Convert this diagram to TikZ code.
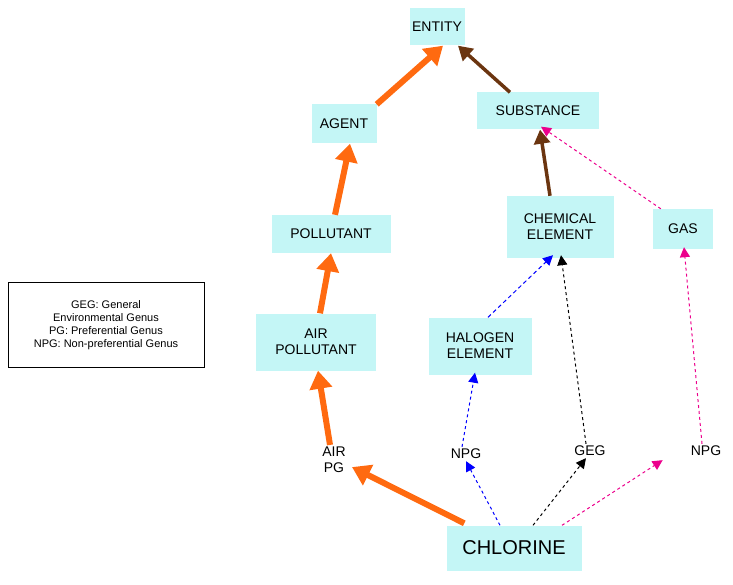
\documentclass[tikz,border=0pt]{standalone}
\usepackage{fontspec}
\setmainfont{Liberation Sans}
\usetikzlibrary{arrows.meta}
\definecolor{boxc}{HTML}{C4F6F6}
\definecolor{org}{HTML}{FF6A10}
\definecolor{brn}{HTML}{6B3510}
\begin{document}
\begin{tikzpicture}[x=1pt,y=-1pt,
  box/.style={fill=boxc,draw=none,align=center,font=\fontsize{14}{16}\selectfont,inner sep=0pt},
  lab/.style={align=center,font=\fontsize{14}{16}\selectfont,inner sep=2pt},
  thk/.style={draw=org,line width=6pt,-{Triangle[length=18pt,width=22pt]}},
  brw/.style={draw=brn,line width=3.5pt,-{Triangle[length=14pt,width=16pt]}},
  dsh/.style={dashed,line width=1pt,-{Triangle[length=10pt,width=10pt]}}]
\useasboundingbox (0,0) rectangle (733,585);
\node[box,minimum width=55,minimum height=37] (ent) at (437,27) {ENTITY};
\node[box,minimum width=65,minimum height=39] (agt) at (344,124) {AGENT};
\node[box,minimum width=122,minimum height=37] (sub) at (538,111) {SUBSTANCE};
\node[box,minimum width=119,minimum height=38] (pol) at (331,234) {POLLUTANT};
\node[box,minimum width=107,minimum height=62] (che) at (560,227) {CHEMICAL\\ELEMENT};
\node[box,minimum width=60,minimum height=40] (gas) at (683,229) {GAS};
\node[box,minimum width=120,minimum height=57] (apol) at (316,342) {AIR\\POLLUTANT};
\node[box,minimum width=103,minimum height=57] (hal) at (480,346) {HALOGEN\\ELEMENT};
\node[lab] (apg) at (334,460) {AIR\\PG};
\node[lab] (npg1) at (466,454) {NPG};
\node[lab] (geg) at (590,451) {GEG};
\node[lab] (npg2) at (706,451) {NPG};
\node[box,minimum width=135,minimum height=45,font=\fontsize{20}{22}\selectfont] (chl) at (514,548) {CHLORINE};
\node[draw,line width=0.8pt,minimum width=196,minimum height=85,align=center,font=\fontsize{11}{13}\selectfont] (leg) at (106,325) {GEG: General\\Environmental Genus\\PG: Preferential Genus\\NPG: Non-preferential Genus};
\draw[thk] (chl.north west)++(18,-2) -- ([xshift=18pt,yshift=8pt]apg.south);
\draw[thk] ([xshift=-4pt]apg.north) -- ([xshift=2pt]apol.south);
\draw[thk] (apol.north) ++(4,0) -- (pol.south);
\draw[thk] (pol.north) ++(4,0) -- ([xshift=6pt]agt.south);
\draw[thk] (agt.north east) -- ([xshift=6pt]ent.south);
\draw[brw] (sub.north) ++(-28,0) -- ([xshift=21pt]ent.south);
\draw[brw] ([xshift=-10pt]che.north) -- ([xshift=2pt]sub.south);
\draw[dsh,magenta] (gas.north west)++(8,0) -- ([xshift=3pt,yshift=3pt]sub.south);
\draw[dsh,blue] ([xshift=-14pt]chl.north) -- (npg1.south);
\draw[dsh,blue] ([xshift=-4pt]npg1.north) -- ([xshift=-5pt,yshift=2pt]hal.south);
\draw[dsh,blue,dash pattern=on 4pt off 3pt] ([xshift=8pt]hal.north) -- ([xshift=-7pt,yshift=3pt]che.south);
\draw[dsh,black] ([xshift=19pt]chl.north) -- ([xshift=-4pt]geg.south);
\draw[dsh,black] ([xshift=-4pt]geg.north) -- ([xshift=1pt,yshift=3pt]che.south);
\draw[dsh,magenta] ([xshift=48pt]chl.north) -- ([xshift=-26pt,yshift=-2pt]npg2.south west);
\draw[dsh,magenta] ([xshift=-4pt]npg2.north) -- ([xshift=1pt,yshift=2pt]gas.south);
\end{tikzpicture}
\end{document}
